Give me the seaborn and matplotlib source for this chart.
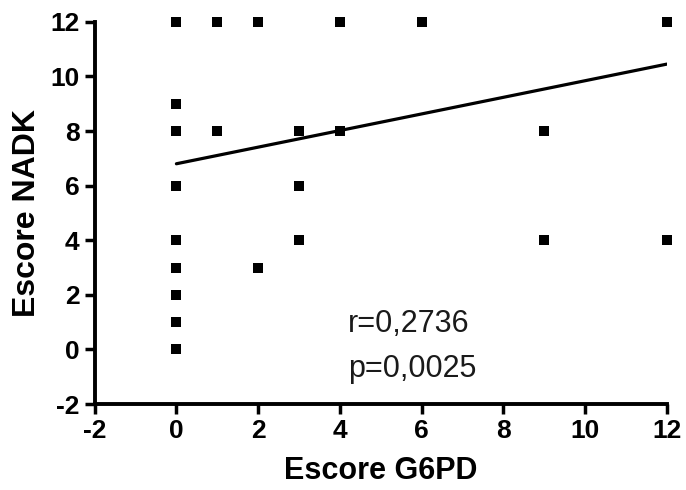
import matplotlib
matplotlib.use("Agg")
import matplotlib.pyplot as plt
import seaborn as sns
import pandas as pd

# visible points (G6PD score, NADK score)
g6pd = [0, 1, 2, 4, 6, 12, 0, 0, 1, 3, 4, 9, 0, 3, 0, 3, 9, 12, 2, 0, 0, 0, 0]
nadk = [12, 12, 12, 12, 12, 12, 9, 8, 8, 8, 8, 8, 6, 6, 4, 4, 4, 4, 3, 3, 2, 1, 0]

# fitted line endpoints
line_x = [0, 12]
line_y = [6.8, 10.45]

ticks = [-2, 0, 2, 4, 6, 8, 10, 12]
stats_text = ["r=0,2736", "p=0,0025"]

df = pd.DataFrame({"G6PD": g6pd, "NADK": nadk})

sns.set_theme(style="ticks")
plt.rcParams['font.family'] = ['Liberation Sans', 'DejaVu Sans']
plt.rcParams['axes.unicode_minus'] = False
plt.rcParams['text.color'] = 'black'
plt.rcParams['axes.labelcolor'] = 'black'
plt.rcParams['xtick.color'] = 'black'
plt.rcParams['ytick.color'] = 'black'

fig = plt.figure(figsize=(6.86, 4.9), dpi=100)
ax = fig.add_axes([0.138, 0.1755, 0.834, 0.78])

sns.scatterplot(data=df, x="G6PD", y="NADK", marker="s", color="black",
                s=48, linewidth=0, ax=ax, clip_on=False, zorder=3)
ax.plot(line_x, line_y, color="black", lw=2.3, zorder=2)

ax.set_xlim(-2, 12)
ax.set_ylim(-2, 12)
ax.set_xticks(ticks)
ax.set_yticks(ticks)
ax.tick_params(width=2.5, length=7, labelsize=19, direction="out", pad=4)
for lab in ax.get_xticklabels() + ax.get_yticklabels():
    lab.set_fontweight("bold")
for side in ["top", "right"]:
    ax.spines[side].set_visible(False)
for side in ["left", "bottom"]:
    ax.spines[side].set_linewidth(2.8)
    ax.spines[side].set_color("black")

ax.set_xlabel("Escore G6PD", fontsize=22, fontweight="bold", labelpad=9)
ax.set_ylabel("Escore NADK", fontsize=23, fontweight="bold", labelpad=6)

ax.text(4.2, 0.64, stats_text[0], fontsize=22, color="#1a1a1a")
ax.text(4.2, -1.0, stats_text[1], fontsize=22, color="#1a1a1a")

fig.savefig("out.png", dpi=100)
